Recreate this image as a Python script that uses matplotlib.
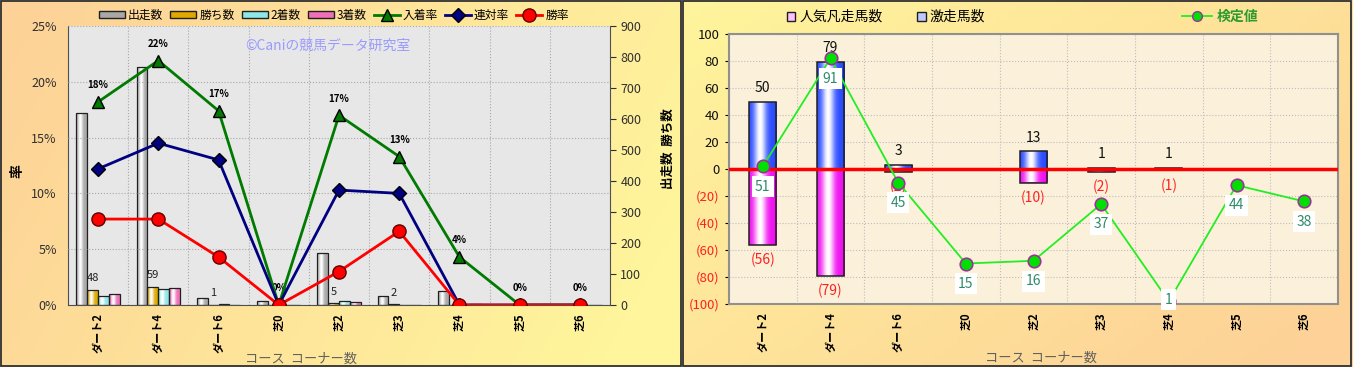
import numpy as np
import matplotlib
matplotlib.use('Agg')
import matplotlib.pyplot as plt
from matplotlib.patches import Patch, Rectangle
from matplotlib.lines import Line2D
from matplotlib.colors import to_rgb

plt.rcParams['font.family'] = ['Noto Sans CJK JP', 'DejaVu Sans']

# ---- data ----
categories = ['ダート2', 'ダート4', 'ダート6', '芝0', '芝2', '芝3', '芝4', '芝5', '芝6']

# left chart: counts (right axis)
runs = [619, 768, 23, 12, 167, 30, 46, 0, 0]
wins = [48, 59, 1, 0, 5, 2, 0, 0, 0]
seconds = [28, 53, 2, 0, 12, 1, 0, 0, 0]
thirds = [37, 56, 1, 0, 11, 1, 2, 0, 0]
# left chart: rates in % (left axis)
place_rate = [18.2, 21.9, 17.4, 0, 17.0, 13.3, 4.3, 0, 0]
quinella_rate = [12.2, 14.5, 13.0, 0, 10.3, 10.0, 0, 0, 0]
win_rate = [7.7, 7.7, 4.3, 0, 3.0, 6.6, 0, 0, 0]

# right chart
surge = [50, 79, 3, 0, 13, 1, 1, 0, 0]
flop = [56, 79, 2, 0, 10, 2, 1, 0, 0]
test_val = [51, 91, 45, 15, 16, 37, 1, 44, 38]

W, H = 1353, 367
fig = plt.figure(figsize=(W / 100, H / 100), dpi=100)


def gradient_bg(rect, c0, c1, wx, wy):
    ax = fig.add_axes(rect)
    gx, gy = np.meshgrid(np.linspace(0, 1, 200), np.linspace(0, 1, 60))
    s = np.clip(wx * gx + wy * gy, 0, 1)[..., None]
    img = np.array(to_rgb(c0)) * (1 - s) + np.array(to_rgb(c1)) * s
    ax.imshow(img, aspect='auto', extent=[0, 1, 1, 0])
    ax.set_xlim(0, 1)
    ax.set_ylim(1, 0)
    ax.axis('off')
    return ax


gradient_bg([0, 0, 682 / W, 1], '#FDD197', '#FFF59C', 0.85, 0.25)
gradient_bg([683 / W, 0, 670 / W, 1], '#FFF59C', '#FDD197', 0.6, 0.45)
for r in [(1 / W, 1 / H, 680 / W, 365 / H), (683 / W, 1 / H, 668 / W, 365 / H)]:
    fig.add_artist(Rectangle(r[:2], r[2], r[3], transform=fig.transFigure,
                             fill=False, edgecolor='#303030', lw=1.3))


def shade(ax, bars, base):
    t = np.linspace(0, 1, 60)
    f = np.exp(-((t - 0.4) / 0.22) ** 2)[:, None]
    row = np.array(to_rgb(base)) * (1 - f) + np.ones(3) * f
    img = row[None, :, :]
    for b in bars:
        h = b.get_height()
        if h == 0:
            continue
        x0, y0 = b.get_x(), b.get_y()
        im = ax.imshow(img, aspect='auto', extent=[x0, x0 + b.get_width(), y0, y0 + h],
                       zorder=2.5, interpolation='bilinear')
        im.set_clip_path(b)


x = np.arange(len(categories))

# ================= left chart =================
axL = fig.add_axes([68 / W, (H - 305) / H, 542 / W, 279 / H])
axP = axL.twinx()
axL.set_facecolor('#E7E7E7')
w = 0.18
count_series = [(runs, '#A8A8A8', '出走数'), (wins, '#E0A800', '勝ち数'),
                (seconds, '#8FE6E6', '2着数'), (thirds, '#EE70B8', '3着数')]
handles = []
for i, (vals, col, lab) in enumerate(count_series):
    bars = axL.bar(x + (i - 1.5) * w, vals, w, color=col, zorder=2)
    shade(axL, bars, col)
    axL.bar(x + (i - 1.5) * w, vals, w, facecolor='none', edgecolor='#202020', lw=0.9, zorder=3)
    handles.append(Patch(facecolor=col, edgecolor='#202020', label=lab))

for xi, v in zip(x, wins):
    if v > 0:
        axL.annotate(str(v), (xi - 0.5 * w, v), xytext=(0, 8.5), textcoords='offset points',
                     ha='center', va='center', fontsize=8, color='#202020')

axL.set_xlim(-0.5, len(categories) - 0.5)
axL.set_ylim(0, 900)
axL.set_yticks(np.arange(0, 901, 100))
axL.yaxis.tick_right()
axL.yaxis.set_label_position('right')
axL.set_ylabel('出走数  勝ち数', fontsize=9, fontweight='bold', rotation=90)
axL.yaxis.set_label_coords(1.095, 0.56)
axL.set_xticks(x)
axL.set_xticklabels(categories, rotation=90, fontsize=8, fontweight='bold')
axL.set_xticks(np.arange(-0.5, len(categories)), minor=True)
axL.xaxis.grid(True, which='minor', ls=':', color='#A8A8A8', lw=0.8)
axL.set_axisbelow(True)
axL.tick_params(axis='x', which='both', length=0, pad=6)
axL.tick_params(axis='y', labelsize=9, colors='#303030', length=4)
axL.set_xlabel('コース  コーナー数', fontsize=9.5, color='#606060')
axL.xaxis.set_label_coords(0.43, -0.17)
axL.spines['top'].set_visible(False)
for s in ['left', 'bottom', 'right']:
    axL.spines[s].set_color('#505050')

axP.yaxis.tick_left()
axP.yaxis.set_label_position('left')
axP.set_ylim(0, 25)
axP.set_yticks(np.arange(0, 26, 5))
axP.set_yticklabels([f'{v}%' for v in range(0, 26, 5)])
axP.tick_params(axis='y', labelsize=9, colors='#303030', length=0, pad=8)
axP.yaxis.grid(True, ls=':', color='#A8A8A8', lw=0.8)
for s in axP.spines.values():
    s.set_visible(False)
axP.set_ylabel('率', fontsize=10, fontweight='bold')
axP.yaxis.set_label_coords(-0.08, 0.48)

l1, = axP.plot(x, place_rate, color='#007A00', lw=2, marker='^', ms=8,
               mfc='#007A00', mec='black', label='入着率', zorder=4)
l2, = axP.plot(x, quinella_rate, color='#000080', lw=2, marker='D', ms=7,
               mfc='#000080', mec='black', label='連対率', zorder=4)
l3, = axP.plot(x, win_rate, color='#FF0000', lw=2, marker='o', ms=9.5,
               mfc='#FF0000', mec='#600000', label='勝率', zorder=5)
handles += [l1, l2, l3]
for xi, v in zip(x, place_rate):
    axP.annotate(f'{v:.0f}%', (xi, v), xytext=(0, 12), textcoords='offset points',
                 ha='center', va='center', fontsize=7, fontweight='bold')

axP.text(0.48, 0.928, '©Caniの競馬データ研究室', transform=axP.transAxes,
         ha='center', va='center', fontsize=10, color='#9A9AFF')

fig.legend(handles=handles, loc='center', bbox_to_anchor=(334 / W, 1 - 15 / H), ncol=7,
           frameon=False, fontsize=8.5, handlelength=2.2, handleheight=0.55,
           handletextpad=0.25, columnspacing=0.6)

# ================= right chart =================
axR = fig.add_axes([729 / W, (H - 304) / H, 609 / W, 270 / H])
axT = axR.twinx()
axR.set_facecolor('#FBF0DA')
bw = 0.4
b_pos = axR.bar(x, surge, bw, color='#3050FF', zorder=2)
shade(axR, b_pos, '#2A4BFF')
axR.bar(x, surge, bw, facecolor='none', edgecolor='#202020', lw=1.1, zorder=3)
neg = [-v for v in flop]
b_neg = axR.bar(x, neg, bw, color='#FF20FF', zorder=2)
shade(axR, b_neg, '#F010F0')
axR.bar(x, neg, bw, facecolor='none', edgecolor='#202020', lw=1.1, zorder=3)
axR.axhline(0, color='#FF0000', lw=2.5, zorder=4)

for xi, v in zip(x, surge):
    if v > 0:
        axR.annotate(str(v), (xi, v), xytext=(0, 10), textcoords='offset points',
                     ha='center', va='center', fontsize=10, color='#101010')
for xi, v in zip(x, flop):
    if v > 0:
        axR.annotate(f'({v})', (xi, -v), xytext=(0, -11), textcoords='offset points',
                     ha='center', va='center', fontsize=10, color='#FF2020')

axR.set_xlim(-0.5, len(categories) - 0.5)
axR.set_ylim(-100, 100)
yt = np.arange(-100, 101, 20)
axR.set_yticks(yt)
axR.set_yticklabels([f'({abs(v)})' if v < 0 else str(v) for v in yt])
for lab, v in zip(axR.get_yticklabels(), yt):
    lab.set_color('#FF2020' if v < 0 else '#101010')
axR.tick_params(axis='y', labelsize=9.5, length=3, pad=4)
axR.set_xticks(x)
axR.set_xticklabels(categories, rotation=90, fontsize=8, fontweight='bold')
axR.set_xticks(np.arange(-0.5, len(categories)), minor=True)
axR.xaxis.grid(True, which='minor', ls=':', color='#BDBDBD', lw=0.8)
axR.yaxis.grid(True, ls=':', color='#BDBDBD', lw=0.8)
axR.set_axisbelow(True)
axR.tick_params(axis='x', which='both', length=0, pad=6)
axR.set_xlabel('コース  コーナー数', fontsize=9.5, color='#606060')
axR.xaxis.set_label_coords(0.512, -0.178)
for s in axR.spines.values():
    s.set_color('#909090')
    s.set_linewidth(1.5)

axT.set_ylim(0, 100)
axT.set_yticks([])
for s in axT.spines.values():
    s.set_visible(False)
axT.plot(x, test_val, color='#22EE22', lw=1.3, marker='o', ms=9,
         mfc='#00E000', mec='#993399', mew=1.2, zorder=5)
for xi, v in zip(x, test_val):
    axT.annotate(str(v), (xi, max(v - 7.5, 1.6)), ha='center', va='center',
                 fontsize=10, color='#2E8B6A', zorder=6, annotation_clip=False,
                 bbox=dict(boxstyle='square,pad=0.25', fc='white', ec='none'))

fig.legend(handles=[Patch(facecolor='#FFC0FF', edgecolor='#202020', label='人気凡走馬数'),
                    Patch(facecolor='#C0C8FF', edgecolor='#202020', label='激走馬数')],
           loc='center', bbox_to_anchor=(886 / W, 1 - 17 / H), ncol=2, frameon=False,
           fontsize=10, handlelength=0.6, handleheight=0.6, handletextpad=0.3,
           columnspacing=2.5)
fig.legend(handles=[Line2D([0], [0], color='#22EE22', lw=1.3, marker='o', ms=7,
                           mfc='#00E000', mec='#993399', label='検定値')],
           loc='center', bbox_to_anchor=(1220 / W, 1 - 17 / H), frameon=False,
           fontsize=10, handlelength=2.2, handletextpad=0.3, labelcolor='#2E9B2E',
           prop={'weight': 'bold', 'size': 10})

fig.savefig('out.png', dpi=100)
